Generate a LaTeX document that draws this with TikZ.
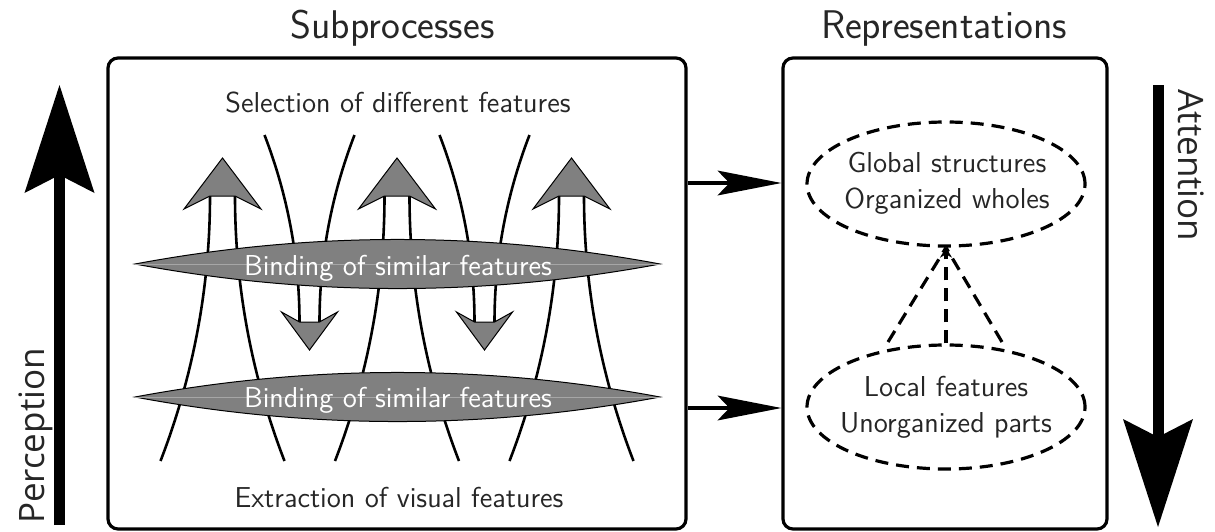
\documentclass[tikz,border=0pt]{standalone}
\usepackage{fontspec}
\newfontfamily\osans{Open Sans}
\usetikzlibrary{arrows.meta,shapes.geometric}
\begin{document}
\begin{tikzpicture}[x=0.5pt,y=-0.5pt,
  txt/.style={font=\sffamily\fontsize{14.4}{18}\selectfont, text=black!85, inner sep=0pt},
  ttl/.style={font=\sffamily\fontsize{20}{24}\selectfont, text=black!85, inner sep=0pt, anchor=base},
  side/.style={font=\osans\fontsize{17.5}{22}\selectfont, text=black!85, inner sep=0pt, anchor=base},
  panel/.style={draw, line width=1.6pt, rounded corners=5pt, inner sep=0pt},
  fiber/.style={line width=1.3pt},
  lens/.style={fill=black!50, draw=black, line width=0.5pt},
  headshape/.style={fill=black!50, draw=black, line width=0.5pt, line join=miter},
  dsh/.style={line width=1.6pt, dash pattern=on 6.5pt off 4pt},
  link/.style={line width=1.6pt, -{Stealth[length=32pt,width=12.5pt,inset=6pt,line width=0pt]}},
  big/.style={line width=5.5pt, -{Stealth[length=54pt,width=35pt,inset=9pt,line width=0pt]}},
]
\useasboundingbox (0,0) rectangle (1215,531);

% panels and titles
\node[panel, minimum width=289pt, minimum height=235.5pt] (lbox) at (397,293.5) {};
\node[panel, minimum width=162pt, minimum height=235.5pt] (rbox) at (945,293.5) {};
\node[ttl] (t1) at (392.5,38) {Subprocesses};
\node[ttl] (t2) at (944,38) {Representations};

% fibres of the upward tubes
\foreach \c in {222.5,397,571.5} {
  \draw[fiber] (\c-12.5,196) .. controls (\c-12.5,287) and (\c-29.2,376) .. (\c-62,461);
  \draw[fiber] (\c+12.5,196) .. controls (\c+12.5,287) and (\c+29.2,376) .. (\c+62,461);
}
% fibres of the downward tubes
\foreach \c in {309.5,484.5} {
  \draw[fiber] (\c-10,322) .. controls (\c-10,258) and (\c-21.9,194.7) .. (\c-45,135);
  \draw[fiber] (\c+10,322) .. controls (\c+10,258) and (\c+21.9,194.7) .. (\c+45,135);
}

% lenses
\foreach \y in {264,397} {
  \draw[lens] (135,\y) .. controls (310,\y-32.7) and (485,\y-32.7) .. (660,\y)
              .. controls (485,\y+32.7) and (310,\y+32.7) .. (135,\y) -- cycle;
  \draw[black!35, line width=0.3pt] (135,\y) -- (660,\y);
}
\node[txt, text=white, anchor=base] (b1) at (398,275) {Binding of similar features};
\node[txt, text=white, anchor=base] (b2) at (398,407.5) {Binding of similar features};

% arrow heads
\foreach \c in {222.5,397,571.5}
  \draw[headshape] (\c,158) -- (\c+38.5,209) -- (\c+12.5,196) -- (\c-12.5,196) -- (\c-38.5,209) -- cycle;
\foreach \c in {309.5,484.5}
  \draw[headshape] (\c,350) -- (\c+28,312) -- (\c+10,322) -- (\c-10,322) -- (\c-28,312) -- cycle;

\node[txt, anchor=base] (sel) at (398,112) {Selection of different features};
\node[txt, anchor=base] (ext) at (399,507) {Extraction of visual features};

% representations
\node[ellipse, draw, dsh, minimum width=139pt, minimum height=62pt, inner sep=0pt] (gE) at (946,184) {};
\node[txt, align=center] (gT) at (947,183) {Global structures\\Organized wholes};
\node[ellipse, draw, dsh, minimum width=139pt, minimum height=62pt, inner sep=0pt] (lE) at (946,407) {};
\node[txt, align=center] (lT) at (946,407.5) {Local features\\Unorganized parts};

\coordinate (dl) at (888,342);
\coordinate (dr) at (1002,342);
\draw[dsh] (dl) -- (gE.south);
\draw[dsh] (dr) -- (gE.south);
\draw[dsh, -{Stealth[length=5pt,width=6pt]}] (lE.north) -- (gE.south);

% links between panels
\coordinate (ya) at (0,183);
\coordinate (yb) at (0,408);
\draw[link] (lbox.east |- ya) -- (rbox.west |- ya);
\draw[link] (lbox.east |- yb) -- (rbox.west |- yb);

% side arrows
\coordinate (pb) at (59.5,525);
\coordinate (pt) at (59.5,85);
\draw[big] (pb) -- (pt);
\node[side, rotate=90] (perc) at (44,436) {Perception};
\coordinate (ab) at (1158,85);
\coordinate (at) at (1158,527);
\draw[big] (ab) -- (at);
\node[side, rotate=-90] (att) at (1178,165.5) {Attention};
\end{tikzpicture}
\end{document}
